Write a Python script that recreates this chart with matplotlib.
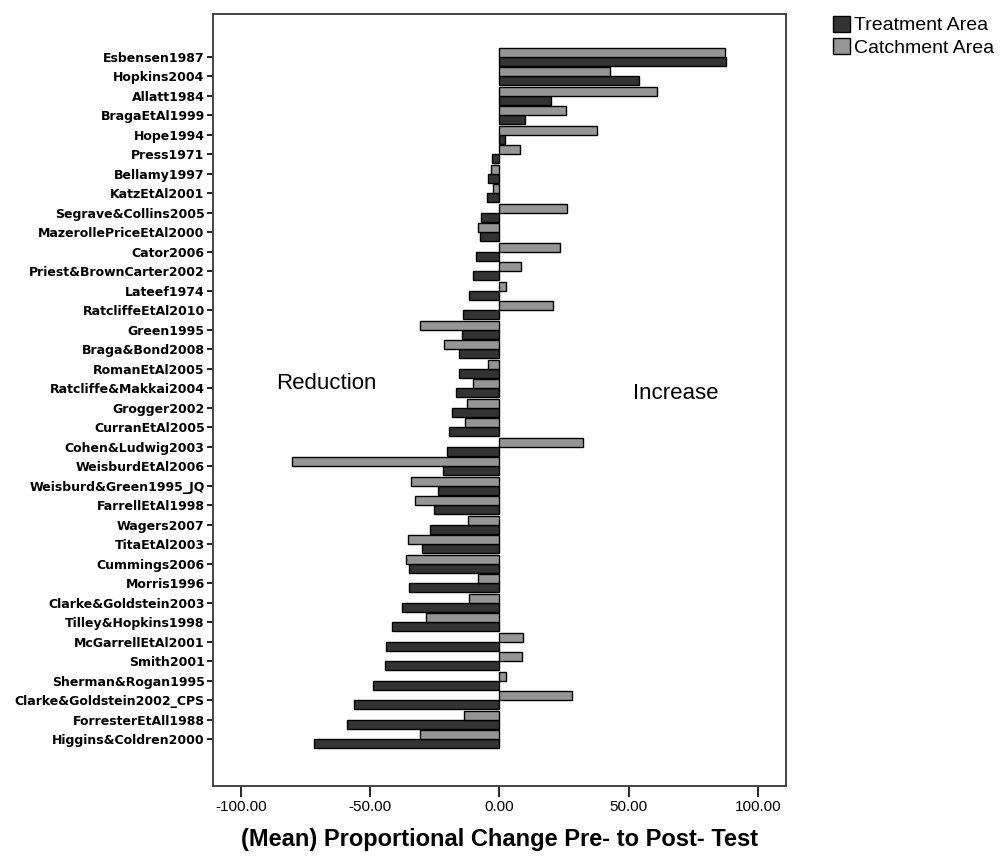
import matplotlib.pyplot as plt
import matplotlib.transforms as mtransforms
import numpy as np

plt.rcParams['font.family'] = ['Liberation Sans', 'DejaVu Sans']

studies = ['Esbensen1987', 'Hopkins2004', 'Allatt1984', 'BragaEtAl1999', 'Hope1994',
           'Press1971', 'Bellamy1997', 'KatzEtAl2001', 'Segrave&Collins2005',
           'MazerollePriceEtAl2000', 'Cator2006', 'Priest&BrownCarter2002', 'Lateef1974',
           'RatcliffeEtAl2010', 'Green1995', 'Braga&Bond2008', 'RomanEtAl2005',
           'Ratcliffe&Makkai2004', 'Grogger2002', 'CurranEtAl2005', 'Cohen&Ludwig2003',
           'WeisburdEtAl2006', 'Weisburd&Green1995_JQ', 'FarrellEtAl1998', 'Wagers2007',
           'TitaEtAl2003', 'Cummings2006', 'Morris1996', 'Clarke&Goldstein2003',
           'Tilley&Hopkins1998', 'McGarrellEtAl2001', 'Smith2001', 'Sherman&Rogan1995',
           'Clarke&Goldstein2002_CPS', 'ForresterEtAll1988', 'Higgins&Coldren2000']

treatment = [87.6, 54.1, 20.0, 9.8, 2.2, -2.8, -4.5, -4.8, -7.0, -7.6, -8.9, -10.3,
             -11.9, -14.1, -14.6, -15.5, -15.8, -16.8, -18.3, -19.4, -20.3, -21.8,
             -23.8, -25.5, -26.7, -29.8, -35.0, -35.0, -37.9, -41.4, -43.9, -44.4,
             -49.0, -56.4, -59.0, -71.6]

catchment = [87.4, 42.6, 60.9, 25.6, 37.9, 7.9, -3.2, -2.7, 26.2, -8.3, 23.3, 8.5,
             2.7, 20.7, -30.6, -21.6, -4.5, -10.3, -12.5, -13.2, 32.4, -80.2,
             -34.1, -32.8, -12.3, -35.2, -36.0, -8.4, -11.7, -28.4, 9.2, 8.7,
             2.4, 28.2, -13.8, -30.6]

dark = '#333333'
light = '#969696'

fig = plt.figure(figsize=(10.01, 8.66), dpi=100)
ax = fig.add_axes([0.2128, 0.0924, 0.5724, 0.8915])

y = np.arange(len(studies))
h = 0.46
ax.barh(y + h / 2, treatment, h, color=dark, edgecolor='black', linewidth=1.0,
        label='Treatment Area')
ax.barh(y - h / 2, catchment, h, color=light, edgecolor='black', linewidth=1.0,
        label='Catchment Area')

ax.set_xlim(-110.8, 110.8)
ax.set_ylim(len(studies) - 1 + 2.4, -2.2)
ax.set_yticks(y)
ax.set_yticklabels(studies, fontsize=9, fontweight='bold', family='DejaVu Sans')
# labels sit a little below their tick marks, as in the original
shift = mtransforms.ScaledTranslation(0, -3 / 72, fig.dpi_scale_trans)
for lab in ax.get_yticklabels():
    lab.set_transform(lab.get_transform() + shift)
ax.set_xticks([-100, -50, 0, 50, 100])
ax.set_xticklabels(['-100.00', '-50.00', '0.00', '50.00', '100.00'], fontsize=11)
ax.tick_params(axis='y', length=4, width=1.2, pad=2)
ax.tick_params(axis='x', length=8, width=1.2, pad=2)
for s in ax.spines.values():
    s.set_color('#444444')
    s.set_linewidth(1.4)

ax.set_xlabel('(Mean) Proportional Change Pre- to Post- Test', fontsize=17,
              fontweight='bold', labelpad=10)

ax.text(-86.4, 16.76, 'Reduction', fontsize=16, va='center', ha='left')
ax.text(51.6, 17.27, 'Increase', fontsize=16, va='center', ha='left')

fig.legend(loc='upper left', bbox_to_anchor=(0.832, 0.982), frameon=False,
           fontsize=14, handlelength=0.9, handleheight=0.9, handletextpad=0.2,
           labelspacing=0.2, borderaxespad=0, borderpad=0)

fig.savefig('out.png', dpi=100)
